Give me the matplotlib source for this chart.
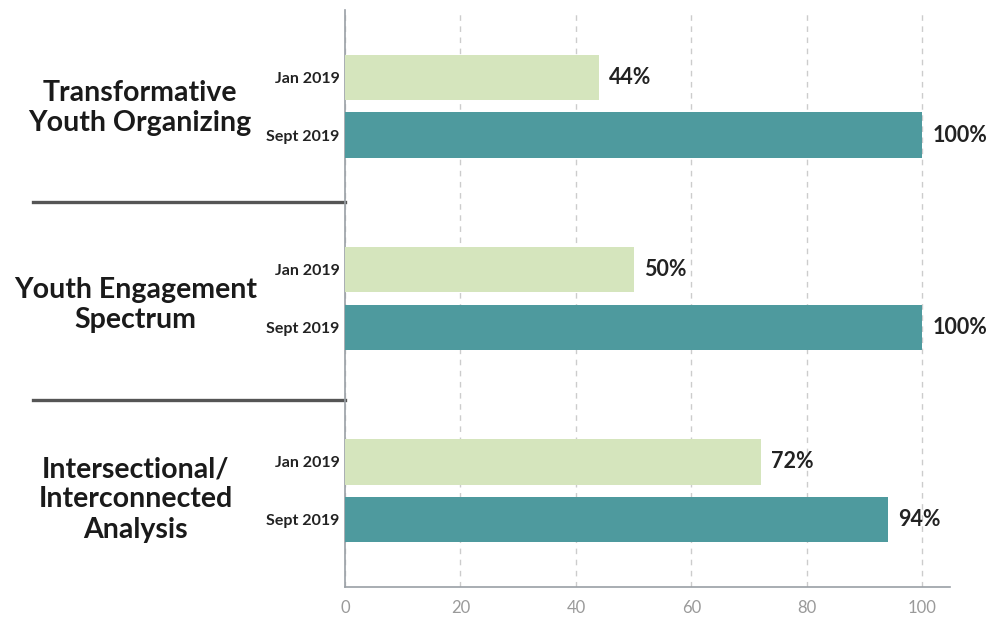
import numpy as np
import matplotlib.pyplot as plt

plt.rcParams['font.family'] = ['Lato', 'DejaVu Sans']

categories = ['Transformative\nYouth Organizing', 'Youth Engagement\nSpectrum',
              'Intersectional/\nInterconnected\nAnalysis']
jan_vals = [44, 50, 72]
sept_vals = [100, 100, 94]
series_labels = ['Jan 2019', 'Sept 2019']
x_ticks = [0, 20, 40, 60, 80, 100]

jan_color = '#d5e5bd'
sept_color = '#4e9a9e'

fig = plt.figure(figsize=(9.92, 6.2), dpi=100)
ax = fig.add_axes([0.3478, 0.0532, 0.6099, 0.9307])

centers = np.arange(len(categories))
off = 0.15
h = 0.235
ax.barh(centers - off, jan_vals, height=h, color=jan_color, zorder=3)
ax.barh(centers + off, sept_vals, height=h, color=sept_color, zorder=3)

for c, v in zip(centers, jan_vals):
    ax.text(v + 1.8, c - off, f'{v}%', va='center', ha='left',
            fontsize=15.5, fontweight='bold', color='#222222')
for c, v in zip(centers, sept_vals):
    ax.text(v + 1.8, c + off, f'{v}%', va='center', ha='left',
            fontsize=15.5, fontweight='bold', color='#222222')

ax.set_xlim(0, 104.8)
ax.set_ylim(2.5, -0.5)
ax.set_xticks(x_ticks)
ax.set_xticklabels([str(t) for t in x_ticks], color='#9a9a9a', fontsize=12)

yt = []
ylabs = []
for c in centers:
    yt += [c - off, c + off]
    ylabs += series_labels
ax.set_yticks(yt)
ax.set_yticklabels(ylabs, fontsize=11.5, fontweight='bold', color='#222222')
ax.tick_params(axis='y', length=0, pad=4)
ax.tick_params(axis='x', length=0, pad=9)

ax.grid(axis='x', linestyle=(0, (4, 4)), color='#cccccc', linewidth=1, zorder=0)
for s in ['top', 'right']:
    ax.spines[s].set_visible(False)
ax.spines['left'].set_color('#9aa0a6')
ax.spines['bottom'].set_color('#9aa0a6')
ax.spines['left'].set_linewidth(1.2)
ax.spines['bottom'].set_linewidth(1.2)

# group labels and separators on the left
tr = ax.get_yaxis_transform()
label_dy = [0.01, 0.035, 0.045]
label_x = [-0.339, -0.346, -0.346]
for c, name, dy, lx in zip(centers, categories, label_dy, label_x):
    ax.text(lx, c + dy, name, transform=tr, ha='center', va='center',
            fontsize=20.5, fontweight='bold', color='#1a1a1a', linespacing=1.2)
for yy in [0.5, 1.53]:
    ax.plot([-0.516, 0], [yy, yy], transform=tr, color='#555555',
            linewidth=2.4, clip_on=False)

fig.savefig('out.png', dpi=100)
